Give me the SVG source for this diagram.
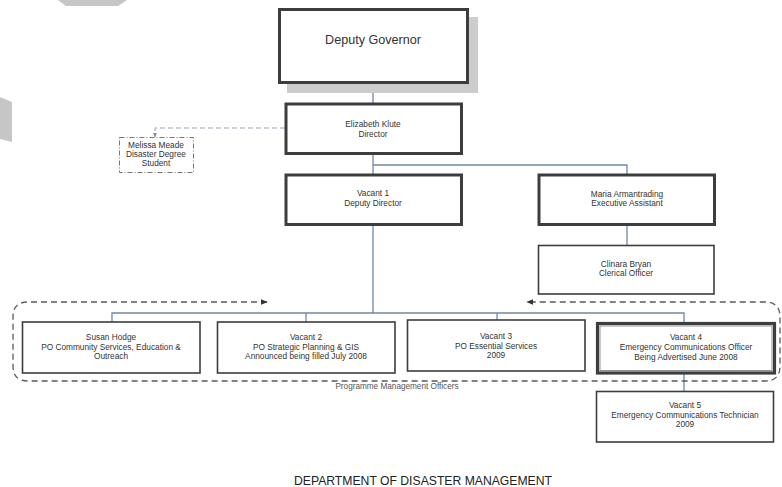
<svg xmlns="http://www.w3.org/2000/svg" width="782" height="487" viewBox="0 0 782 487">
  <style>
    text { font-family: "Liberation Sans", Arial, sans-serif; fill: #333; text-anchor: middle; }
    .t { font-size: 8.3px; }
    .box { fill: #fff; stroke: #3d3d3d; }
    .thick { stroke-width: 3; }
    .thin { stroke-width: 1.6; }
    .link { fill: none; stroke: #6f88a8; stroke-width: 1.3; }
    .group { fill: none; stroke: #5a5a5a; stroke-width: 1.3; stroke-dasharray: 6 4; }
    .aux { fill: none; stroke: #9aa6b4; stroke-width: 1.1; stroke-dasharray: 5 3; }
  </style>
  <defs>
    <marker id="arrow" viewBox="0 0 10 10" refX="9" refY="5" markerWidth="7" markerHeight="7" orient="auto-start-reverse" markerUnits="userSpaceOnUse">
      <path d="M0,1 L10,5 L0,9 z" fill="#333"/>
    </marker>
    <marker id="tick" viewBox="0 0 10 10" refX="9" refY="5" markerWidth="5" markerHeight="5" orient="auto" markerUnits="userSpaceOnUse">
      <path d="M0,1 L10,5 L0,9 z" fill="#888"/>
    </marker>
  </defs>

  <rect width="782" height="487" fill="#fff"/>

  <!-- page-edge shapes -->
  <polygon points="58,0 127,0 118,6 66,6" fill="#c6c6c6"/>
  <polygon points="0,97 12,102 12,142 0,139" fill="#c6c6c6"/>

  <!-- connectors -->
  <g id="connectors">
    <path class="link" d="M373,83 V103"/>
    <path class="link" d="M373,154 V174"/>
    <path class="link" d="M373,165 H627 V174"/>
    <path class="link" d="M627,225 V245"/>
    <path class="link" d="M373,225 V313"/>
    <path class="link" d="M112,322 V313 H684 V323"/>
    <path class="link" d="M306,313 V322"/>
    <path class="link" d="M497,313 V320"/>
    <path class="link" d="M684,373 V391"/>
    <path class="aux" d="M285,128 H155 V137" marker-end="url(#tick)"/>
    <path class="group" d="M267,302 H28 Q13,302 13,317 V366 Q13,381 28,381 H765 Q780,381 780,366 V317 Q780,302 765,302 H527" marker-start="url(#arrow)" marker-end="url(#arrow)"/>
  </g>

  <g id="deputy-governor">
    <rect x="287" y="17" width="191" height="76" fill="#cccccc"/>
    <rect class="box thick" x="279.5" y="9.5" width="188" height="73"/>
    <text x="373" y="44" style="font-size:12.6px">Deputy Governor</text>
  </g>

  <g id="director">
    <rect class="box thick" x="286" y="104" width="175.5" height="49.5"/>
    <text class="t" x="373" y="127">Elizabeth Klute</text>
    <text class="t" x="373" y="136.5">Director</text>
  </g>

  <g id="student">
    <rect x="119.5" y="137.5" width="74" height="35" fill="#fff" stroke="#777" stroke-width="1" stroke-dasharray="5 2 1 2"/>
    <text class="t" x="156" y="148">Melissa Meade</text>
    <text class="t" x="156" y="157">Disaster Degree</text>
    <text class="t" x="156" y="166">Student</text>
  </g>

  <g id="deputy-director">
    <rect class="box thick" x="286" y="175" width="175.5" height="49.5"/>
    <text class="t" x="373" y="196">Vacant 1</text>
    <text class="t" x="373" y="206">Deputy Director</text>
  </g>

  <g id="executive-assistant">
    <rect class="box thick" x="539" y="175" width="175.5" height="49.5"/>
    <text class="t" x="627" y="197">Maria Armantrading</text>
    <text class="t" x="627" y="206">Executive Assistant</text>
  </g>

  <g id="clerical-officer">
    <rect class="box thin" x="538.5" y="245.5" width="175.5" height="48.5"/>
    <text class="t" x="626" y="267">Clinara Bryan</text>
    <text class="t" x="626" y="276">Clerical Officer</text>
  </g>

  <g id="po-community">
    <rect class="box thin" x="22.5" y="322" width="177.5" height="51"/>
    <text class="t" x="111" y="340">Susan Hodge</text>
    <text class="t" x="111" y="349.5">PO Community Services, Education &amp;</text>
    <text class="t" x="111" y="359">Outreach</text>
  </g>

  <g id="po-planning">
    <rect class="box thin" x="217.5" y="322" width="177.5" height="51"/>
    <text class="t" x="306" y="340">Vacant 2</text>
    <text class="t" x="306" y="349.5">PO Strategic Planning &amp; GIS</text>
    <text class="t" x="306" y="359">Announced being filled July 2008</text>
  </g>

  <g id="po-essential">
    <rect class="box thin" x="407.5" y="320" width="177.5" height="51"/>
    <text class="t" x="496" y="339">Vacant 3</text>
    <text class="t" x="496" y="348.5">PO Essential Services</text>
    <text class="t" x="496" y="358">2009</text>
  </g>

  <g id="emergency-officer">
    <rect class="box" x="597.5" y="323.5" width="177" height="49.5" stroke-width="3.2"/>
    <rect x="600" y="326" width="172" height="44.5" fill="none" stroke="#777" stroke-width="0.8"/>
    <text class="t" x="686" y="340">Vacant 4</text>
    <text class="t" x="686" y="349.5">Emergency Communications Officer</text>
    <text class="t" x="686" y="359.5">Being Advertised June 2008</text>
  </g>

  <g id="emergency-technician">
    <rect class="box thin" x="596.5" y="391.5" width="177" height="50.5"/>
    <text class="t" x="685" y="408">Vacant 5</text>
    <text class="t" x="685" y="418">Emergency Communications Technician</text>
    <text class="t" x="685" y="427">2009</text>
  </g>

  <text x="397" y="388.5" style="font-size:8.2px;fill:#555">Programme Management Officers</text>
  <text x="423" y="484.5" style="font-size:12.2px;fill:#222">DEPARTMENT OF DISASTER MANAGEMENT</text>
</svg>
